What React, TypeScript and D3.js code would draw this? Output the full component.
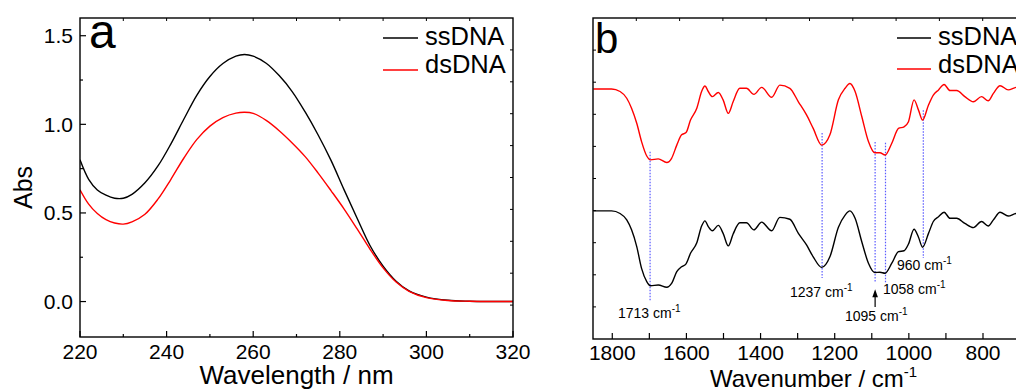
import React from "react";
import * as d3 from "d3";

// ---------- Panel a: UV-Vis ----------
const wavelength = [220, 222, 224, 226, 228, 230, 232, 235, 238, 241, 244, 247, 250, 253, 256, 258, 260, 263, 266, 269, 272, 275, 278, 281, 284, 287, 290, 293, 296, 300, 305, 310, 320];
const ssAbs = [0.8, 0.69, 0.63, 0.6, 0.583, 0.583, 0.605, 0.67, 0.765, 0.89, 1.03, 1.165, 1.27, 1.343, 1.385, 1.394, 1.385, 1.345, 1.275, 1.185, 1.07, 0.94, 0.795, 0.63, 0.47, 0.315, 0.2, 0.115, 0.06, 0.025, 0.007, 0.002, 0.0];
const dsAbs = [0.631, 0.55, 0.497, 0.462, 0.443, 0.437, 0.45, 0.493, 0.578, 0.69, 0.81, 0.915, 0.99, 1.038, 1.063, 1.068, 1.062, 1.022, 0.964, 0.895, 0.818, 0.725, 0.625, 0.522, 0.41, 0.295, 0.19, 0.11, 0.058, 0.022, 0.006, 0.002, 0.0];
const xTicksA = [220, 240, 260, 280, 300, 320];
const yTicksA = [0.0, 0.5, 1.0, 1.5];

// ---------- Panel b: FTIR ----------
const wavenumber = [1851, 1802, 1779, 1761, 1748, 1734, 1721, 1707, 1697, 1676, 1653, 1640, 1626, 1613, 1601, 1589, 1572, 1559, 1550, 1541, 1530, 1514, 1501, 1487, 1474, 1456, 1438, 1418, 1397, 1370, 1348, 1321, 1298, 1276, 1258, 1235, 1213, 1190, 1172, 1159, 1145, 1127, 1109, 1092, 1078, 1064, 1046, 1028, 1013, 1001, 986, 974, 963, 947, 934, 920, 905, 889, 871, 849, 826, 804, 786, 772, 754, 732, 711, 690];
const dsIR = [7.79, 7.79, 7.71, 7.5, 7.19, 6.72, 6.15, 5.7, 5.58, 5.61, 5.5, 5.63, 6.04, 6.36, 6.43, 6.82, 7.19, 7.71, 7.88, 7.71, 7.55, 7.68, 7.45, 7.03, 7.39, 7.81, 7.81, 7.62, 7.84, 7.53, 7.91, 7.81, 7.39, 6.98, 6.56, 6.04, 6.36, 7.45, 7.81, 7.96, 7.71, 6.93, 6.15, 5.8, 5.8, 5.73, 6.1, 6.56, 6.61, 6.77, 7.45, 7.13, 6.82, 7.29, 7.6, 7.76, 7.93, 7.74, 7.74, 7.55, 7.39, 7.55, 7.42, 7.65, 7.89, 7.76, 7.84, 7.86];
const ssIR = [3.99, 3.99, 3.91, 3.71, 3.4, 2.88, 2.2, 1.79, 1.66, 1.68, 1.61, 1.73, 2.1, 2.25, 2.34, 2.67, 3.0, 3.52, 3.68, 3.5, 3.37, 3.54, 3.29, 2.9, 3.27, 3.62, 3.62, 3.4, 3.64, 3.37, 3.79, 3.73, 3.29, 2.93, 2.56, 2.23, 2.56, 3.48, 3.86, 3.99, 3.76, 3.03, 2.36, 2.07, 2.08, 2.05, 2.36, 2.72, 2.75, 2.96, 3.42, 3.17, 2.86, 3.29, 3.66, 3.81, 3.95, 3.76, 3.76, 3.6, 3.47, 3.66, 3.52, 3.71, 3.95, 3.83, 3.91, 3.92];
const xTicksB = [1800, 1600, 1400, 1200, 1000, 800];
const xMinorB = [1700, 1500, 1300, 1100, 900, 700];

// Peak markers: wavenumber position, top and bottom of dotted line (arbitrary units)
const peakPos = [1698, 1234, 1091, 1063, 961];
const peakTop = [5.83, 6.42, 6.14, 6.11, 7.13];
const peakBottom = [1.21, 1.9, 1.78, 1.74, 2.52];
const peakLabels = ["1713", "1237", "1095", "1058", "960"];

const seriesNames = ["ssDNA", "dsDNA"];
const seriesColors = ["#000000", "#ff0000"];

const FONT = "'Liberation Sans', Arial, Helvetica, sans-serif";

export default function App() {
  const W = 1016, H = 390;
  // panel a frame
  const aL = 80, aR = 513, aT = 18, aB = 337;
  const xA = d3.scaleLinear().domain([220, 320]).range([aL, aR]);
  const yA = d3.scaleLinear().domain([-0.2, 1.6]).range([aB, aT]);
  const topA = d3.scaleLinear().domain([0, 10]).range([aL, aR]);
  const rightA = d3.scaleLinear().domain([0, 10]).range([aB, aT]);

  // panel b frame
  const bL = 593, bR = 1026, bT = 18, bB = 339;
  const xB = d3.scaleLinear().domain([1852, 684]).range([bL, bR]);
  const yB = d3.scaleLinear().domain([0, 10]).range([bB, bT]);
  const topB = d3.scaleLinear().domain([0, 10]).range([bL, bR]);

  const lineA = (vals: number[]) =>
    d3.line<number>().x((_, i) => xA(wavelength[i])).y((v) => yA(v)).curve(d3.curveCatmullRom.alpha(0.5))(vals) || "";
  const lineB = (vals: number[]) =>
    d3.line<number>().x((_, i) => xB(wavenumber[i])).y((v) => yB(v)).curve(d3.curveMonotoneX)(vals) || "";

  const divs = d3.range(1, 10);
  const minorA = [230, 250, 270, 290, 310];
  const minorYA = [0.25, 0.75, 1.25];

  // label layout for peak annotations (start x, baseline y in px)
  const labelXY: [number, number][] = [
    [618, 318],
    [790, 297],
    [845, 320.5],
    [883, 294],
    [897, 270],
  ];

  const arrowX = xB(peakPos[2]);

  return (
    <svg width={W} height={H} style={{ position: "absolute", left: 0, top: 0, background: "#fff" }} fontFamily={FONT}>
      <defs>
        <clipPath id="clipA"><rect x={aL} y={aT} width={aR - aL} height={aB - aT} /></clipPath>
        <clipPath id="clipB"><rect x={bL} y={bT} width={bR - bL} height={bB - bT} /></clipPath>
      </defs>
      <rect x={0} y={0} width={W} height={H} fill="#fff" />

      {/* ===== Panel a ===== */}
      <g clipPath="url(#clipA)">
        <path d={lineA(ssAbs)} fill="none" stroke={seriesColors[0]} strokeWidth={1.4} />
        <path d={lineA(dsAbs)} fill="none" stroke={seriesColors[1]} strokeWidth={1.4} />
      </g>
      <rect x={aL} y={aT} width={aR - aL} height={aB - aT} fill="none" stroke="#000" strokeWidth={1.4} />
      {xTicksA.map((t) => (
        <g key={"xa" + t}>
          <line x1={xA(t)} x2={xA(t)} y1={aB} y2={aB - 6} stroke="#000" strokeWidth={1.2} />
          <text x={xA(t)} y={359} fontSize={21} textAnchor="middle">{t}</text>
        </g>
      ))}
      {minorA.map((t) => (
        <line key={"xam" + t} x1={xA(t)} x2={xA(t)} y1={aB} y2={aB - 3} stroke="#000" strokeWidth={1.2} />
      ))}
      {yTicksA.map((t) => (
        <g key={"ya" + t}>
          <line x1={aL} x2={aL + 6} y1={yA(t)} y2={yA(t)} stroke="#000" strokeWidth={1.2} />
          <text x={73} y={yA(t) + 7.5} fontSize={21} textAnchor="end">{t.toFixed(1)}</text>
        </g>
      ))}
      {minorYA.map((t) => (
        <line key={"yam" + t} x1={aL} x2={aL + 3} y1={yA(t)} y2={yA(t)} stroke="#000" strokeWidth={1.2} />
      ))}
      {divs.map((d) => (
        <g key={"ta" + d}>
          <line x1={topA(d)} x2={topA(d)} y1={aT} y2={aT + 3} stroke="#000" strokeWidth={1} />
          <line x1={aR} x2={aR - 3} y1={rightA(d)} y2={rightA(d)} stroke="#000" strokeWidth={1} />
        </g>
      ))}
      <text x={89} y={48} fontSize={48}>a</text>
      <text x={xA(270)} y={384} fontSize={26} textAnchor="middle">Wavelength / nm</text>
      <text transform={`translate(32, ${(aT + aB) / 2 + 10}) rotate(-90)`} fontSize={25} textAnchor="middle">Abs</text>
      {seriesNames.map((n, i) => (
        <g key={"la" + n}>
          <line x1={383} x2={418} y1={38 + i * 32} y2={38 + i * 32} stroke={seriesColors[i]} strokeWidth={1.4} />
          <text x={425} y={44.5 + i * 28} fontSize={25.5}>{n}</text>
        </g>
      ))}

      {/* ===== Panel b ===== */}
      <g clipPath="url(#clipB)">
        {peakPos.map((p, i) => (
          <line key={"pk" + i} x1={xB(p)} x2={xB(p)} y1={yB(peakTop[i])} y2={yB(peakBottom[i])}
            stroke="#5a5aff" strokeWidth={1.2} strokeDasharray="1.5,1.5" />
        ))}
        <path d={lineB(dsIR)} fill="none" stroke={seriesColors[1]} strokeWidth={1.4} />
        <path d={lineB(ssIR)} fill="none" stroke={seriesColors[0]} strokeWidth={1.4} />
      </g>
      <rect x={bL} y={bT} width={bR - bL} height={bB - bT} fill="none" stroke="#000" strokeWidth={1.4} />
      {xTicksB.map((t) => (
        <g key={"xb" + t}>
          <line x1={xB(t)} x2={xB(t)} y1={bB} y2={bB - 6} stroke="#000" strokeWidth={1.2} />
          <text x={xB(t)} y={360} fontSize={21} textAnchor="middle">{t}</text>
        </g>
      ))}
      {xMinorB.map((t) => (
        <line key={"xbm" + t} x1={xB(t)} x2={xB(t)} y1={bB} y2={bB - 6} stroke="#000" strokeWidth={1.2} />
      ))}
      {divs.map((d) => (
        <g key={"tb" + d}>
          <line x1={bL} x2={bL + 3} y1={yB(d)} y2={yB(d)} stroke="#000" strokeWidth={1} />
          <line x1={topB(d)} x2={topB(d)} y1={bT} y2={bT + 3} stroke="#000" strokeWidth={1} />
        </g>
      ))}
      <text x={595} y={53} fontSize={42}>b</text>
      <text x={710} y={387} fontSize={24}>
        Wavenumber / cm<tspan fontSize={15} dy={-10}>-1</tspan>
      </text>
      {seriesNames.map((n, i) => (
        <g key={"lb" + n}>
          <line x1={897} x2={931} y1={38 + i * 31} y2={38 + i * 31} stroke={seriesColors[i]} strokeWidth={1.4} />
          <text x={938} y={44.5 + i * 28} fontSize={25.5}>{n}</text>
        </g>
      ))}
      {peakLabels.map((l, i) => (
        <text key={"pl" + i} x={labelXY[i][0]} y={labelXY[i][1]} fontSize={14}>
          {l} cm<tspan fontSize={10} dy={-6}>-1</tspan>
        </text>
      ))}
      {/* arrow for 1095 */}
      <line x1={arrowX} x2={arrowX} y1={yB(1.0)} y2={yB(1.35)} stroke="#000" strokeWidth={1.2} />
      <path d={`M${arrowX},${yB(1.55)} L${arrowX - 2.8},${yB(1.3)} L${arrowX + 2.8},${yB(1.3)} Z`} fill="#000" />
    </svg>
  );
}
